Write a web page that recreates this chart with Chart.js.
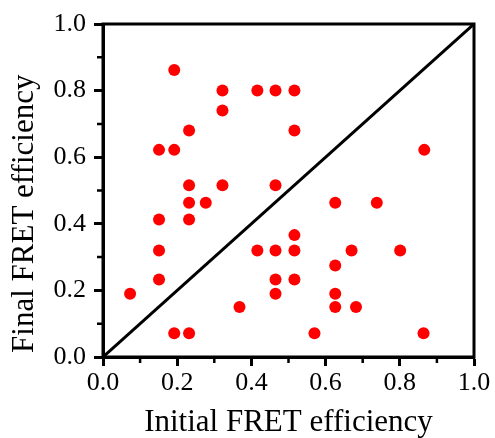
<!DOCTYPE html>
<html>
<head>
<meta charset="utf-8">
<script src="https://cdn.jsdelivr.net/npm/chart.js@4/dist/chart.umd.min.js"></script>
<style>
  html, body { margin: 0; padding: 0; background: #fff; }
  #wrap { width: 495px; height: 438px; }
</style>
</head>
<body>
<div id="wrap"><canvas id="fretChart"></canvas></div>
<script>
// initial / final FRET efficiency of each molecule
const initialFret = [0.192, 0.322, 0.416, 0.465, 0.516, 0.322, 0.232, 0.516, 0.151, 0.192,
                     0.866, 0.232, 0.322, 0.465, 0.232, 0.277, 0.626, 0.738, 0.151, 0.232,
                     0.516, 0.151, 0.416, 0.465, 0.516, 0.670, 0.801, 0.626, 0.151, 0.465,
                     0.516, 0.073, 0.465, 0.626, 0.368, 0.626, 0.682, 0.192, 0.232, 0.570,
                     0.864];
const finalFret = [0.862, 0.800, 0.800, 0.800, 0.800, 0.740, 0.680, 0.680, 0.622, 0.622,
                   0.622, 0.516, 0.516, 0.516, 0.463, 0.463, 0.463, 0.463, 0.413, 0.413,
                   0.366, 0.320, 0.320, 0.320, 0.320, 0.320, 0.320, 0.275, 0.233, 0.233,
                   0.233, 0.190, 0.190, 0.190, 0.150, 0.150, 0.150, 0.071, 0.071, 0.071,
                   0.071];
// y = x reference line
const diagonalX = [0, 1];
const diagonalY = [0, 1];
const majorTicks = [0, 0.2, 0.4, 0.6, 0.8, 1.0];
const minorTicks = [0.1, 0.3, 0.5, 0.7, 0.9];

const serif = 'Liberation Serif';

// frame around the plot + short minor ticks
const framePlugin = {
    id: 'frame',
    afterDraw(chart) {
        const ctx = chart.ctx;
        const a = chart.chartArea;
        ctx.save();
        ctx.strokeStyle = '#000';
        ctx.lineWidth = 3;
        ctx.strokeRect(a.left, a.top, a.right - a.left, a.bottom - a.top);
        ctx.lineWidth = 2.5;
        ctx.beginPath();
        minorTicks.forEach(v => {
            const px = chart.scales.x.getPixelForValue(v);
            ctx.moveTo(px, a.bottom);
            ctx.lineTo(px, a.bottom + 6);
            const py = chart.scales.y.getPixelForValue(v);
            ctx.moveTo(a.left, py);
            ctx.lineTo(a.left - 6, py);
        });
        ctx.stroke();
        ctx.restore();
    }
};

const ctx = document.getElementById('fretChart').getContext('2d');
new Chart(ctx, {
    type: 'scatter',
    data: {
        datasets: [{
            data: initialFret.map((x, i) => ({ x: x, y: finalFret[i] })),
            backgroundColor: '#ff0000',
            borderWidth: 0,
            pointRadius: 6,
            pointHoverRadius: 6
        }, {
            type: 'line',
            data: diagonalX.map((x, i) => ({ x: x, y: diagonalY[i] })),
            borderColor: '#000',
            borderWidth: 3,
            pointRadius: 0,
            fill: false
        }]
    },
    options: {
        responsive: true,
        maintainAspectRatio: false,
        animation: false,
        layout: { padding: { left: 0, right: 21, top: 24, bottom: 0 } },
        plugins: { legend: { display: false }, tooltip: { enabled: false } },
        scales: {
            x: {
                type: 'linear',
                min: 0, max: 1,
                afterBuildTicks: s => { s.ticks = majorTicks.map(v => ({ value: v })); },
                afterFit: s => { s.height = 81; },
                ticks: {
                    callback: v => v.toFixed(1),
                    font: { family: serif, size: 26 },
                    color: '#000',
                    padding: 2,
                    maxRotation: 0
                },
                grid: { drawOnChartArea: false, tickLength: 9, tickWidth: 3, tickColor: '#000' },
                border: { color: '#000', width: 3 },
                title: {
                    display: true,
                    text: 'Initial FRET efficiency',
                    font: { family: serif, size: 31, lineHeight: 1.0 },
                    color: '#000',
                    padding: { top: 0, bottom: 0 }
                }
            },
            y: {
                type: 'linear',
                min: 0, max: 1,
                afterBuildTicks: s => { s.ticks = majorTicks.map(v => ({ value: v })); },
                afterFit: s => { s.width = 103; },
                ticks: {
                    callback: v => v.toFixed(1),
                    font: { family: serif, size: 26 },
                    color: '#000',
                    padding: 8
                },
                grid: { drawOnChartArea: false, tickLength: 9, tickWidth: 3, tickColor: '#000' },
                border: { color: '#000', width: 3 },
                title: {
                    display: true,
                    text: 'Final FRET efficiency      ',
                    font: { family: serif, size: 31, lineHeight: 1.0 },
                    color: '#000',
                    padding: { top: 9, bottom: 0 }
                }
            }
        }
    },
    plugins: [framePlugin]
});
</script>
</body>
</html>
